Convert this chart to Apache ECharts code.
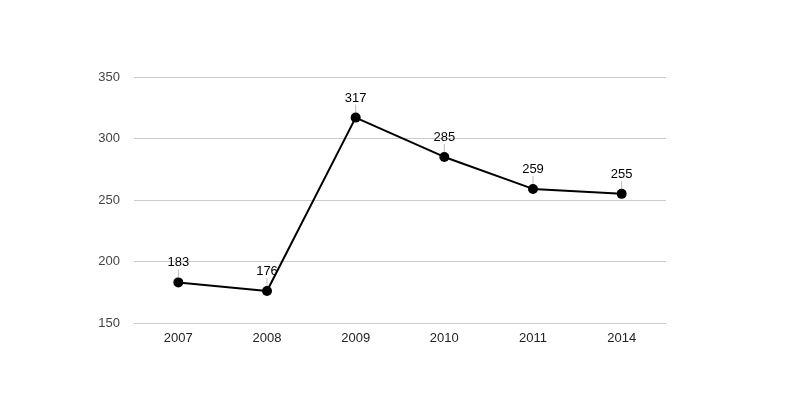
<!DOCTYPE html>
<html>
<head>
<meta charset="utf-8">
<script src="https://cdn.jsdelivr.net/npm/echarts@6/dist/echarts.min.js"></script>
<style>
	html, body { margin: 0; padding: 0; background: #ffffff; }
	#chart { width: 800px; height: 400px; }
</style>
</head>
<body>
<div id="chart"></div>
<script>
const years = ['2007', '2008', '2009', '2010', '2011', '2014']
const counts = [183, 176, 317, 285, 259, 255]

const myChart = echarts.init(document.getElementById('chart'))

const option = {
	animation: false,
	grid: {
		left: 134,
		right: 134,
		top: 77,
		bottom: 77
	},
	xAxis: {
		type: 'category',
		data: years,
		boundaryGap: true,
		axisLine: { lineStyle: { color: '#cccccc' } },
		axisTick: { show: false },
		axisLabel: {
			color: '#222222',
			fontFamily: 'Liberation Sans, Arial',
			fontSize: 13,
			margin: 9
		}
	},
	yAxis: {
		type: 'value',
		min: 150,
		max: 350,
		interval: 50,
		axisLine: { show: false },
		axisTick: { show: false },
		splitLine: { lineStyle: { color: '#cccccc' } },
		axisLabel: {
			color: '#444444',
			fontFamily: 'Liberation Sans, Arial',
			fontSize: 13,
			margin: 14
		}
	},
	series: [{
		type: 'line',
		data: counts,
		symbol: 'circle',
		symbolSize: 10,
		itemStyle: { color: '#000000' },
		lineStyle: { color: '#000000', width: 2 },
		label: {
			show: true,
			position: 'top',
			distance: 5,
			color: '#000000',
			fontFamily: 'Liberation Sans, Arial',
			fontSize: 13
		},
		labelLayout: { dy: -3 },
		labelLine: {
			show: true,
			lineStyle: { color: '#bbbbbb', width: 1 }
		}
	}]
}

myChart.setOption(option)
</script>
</body>
</html>
